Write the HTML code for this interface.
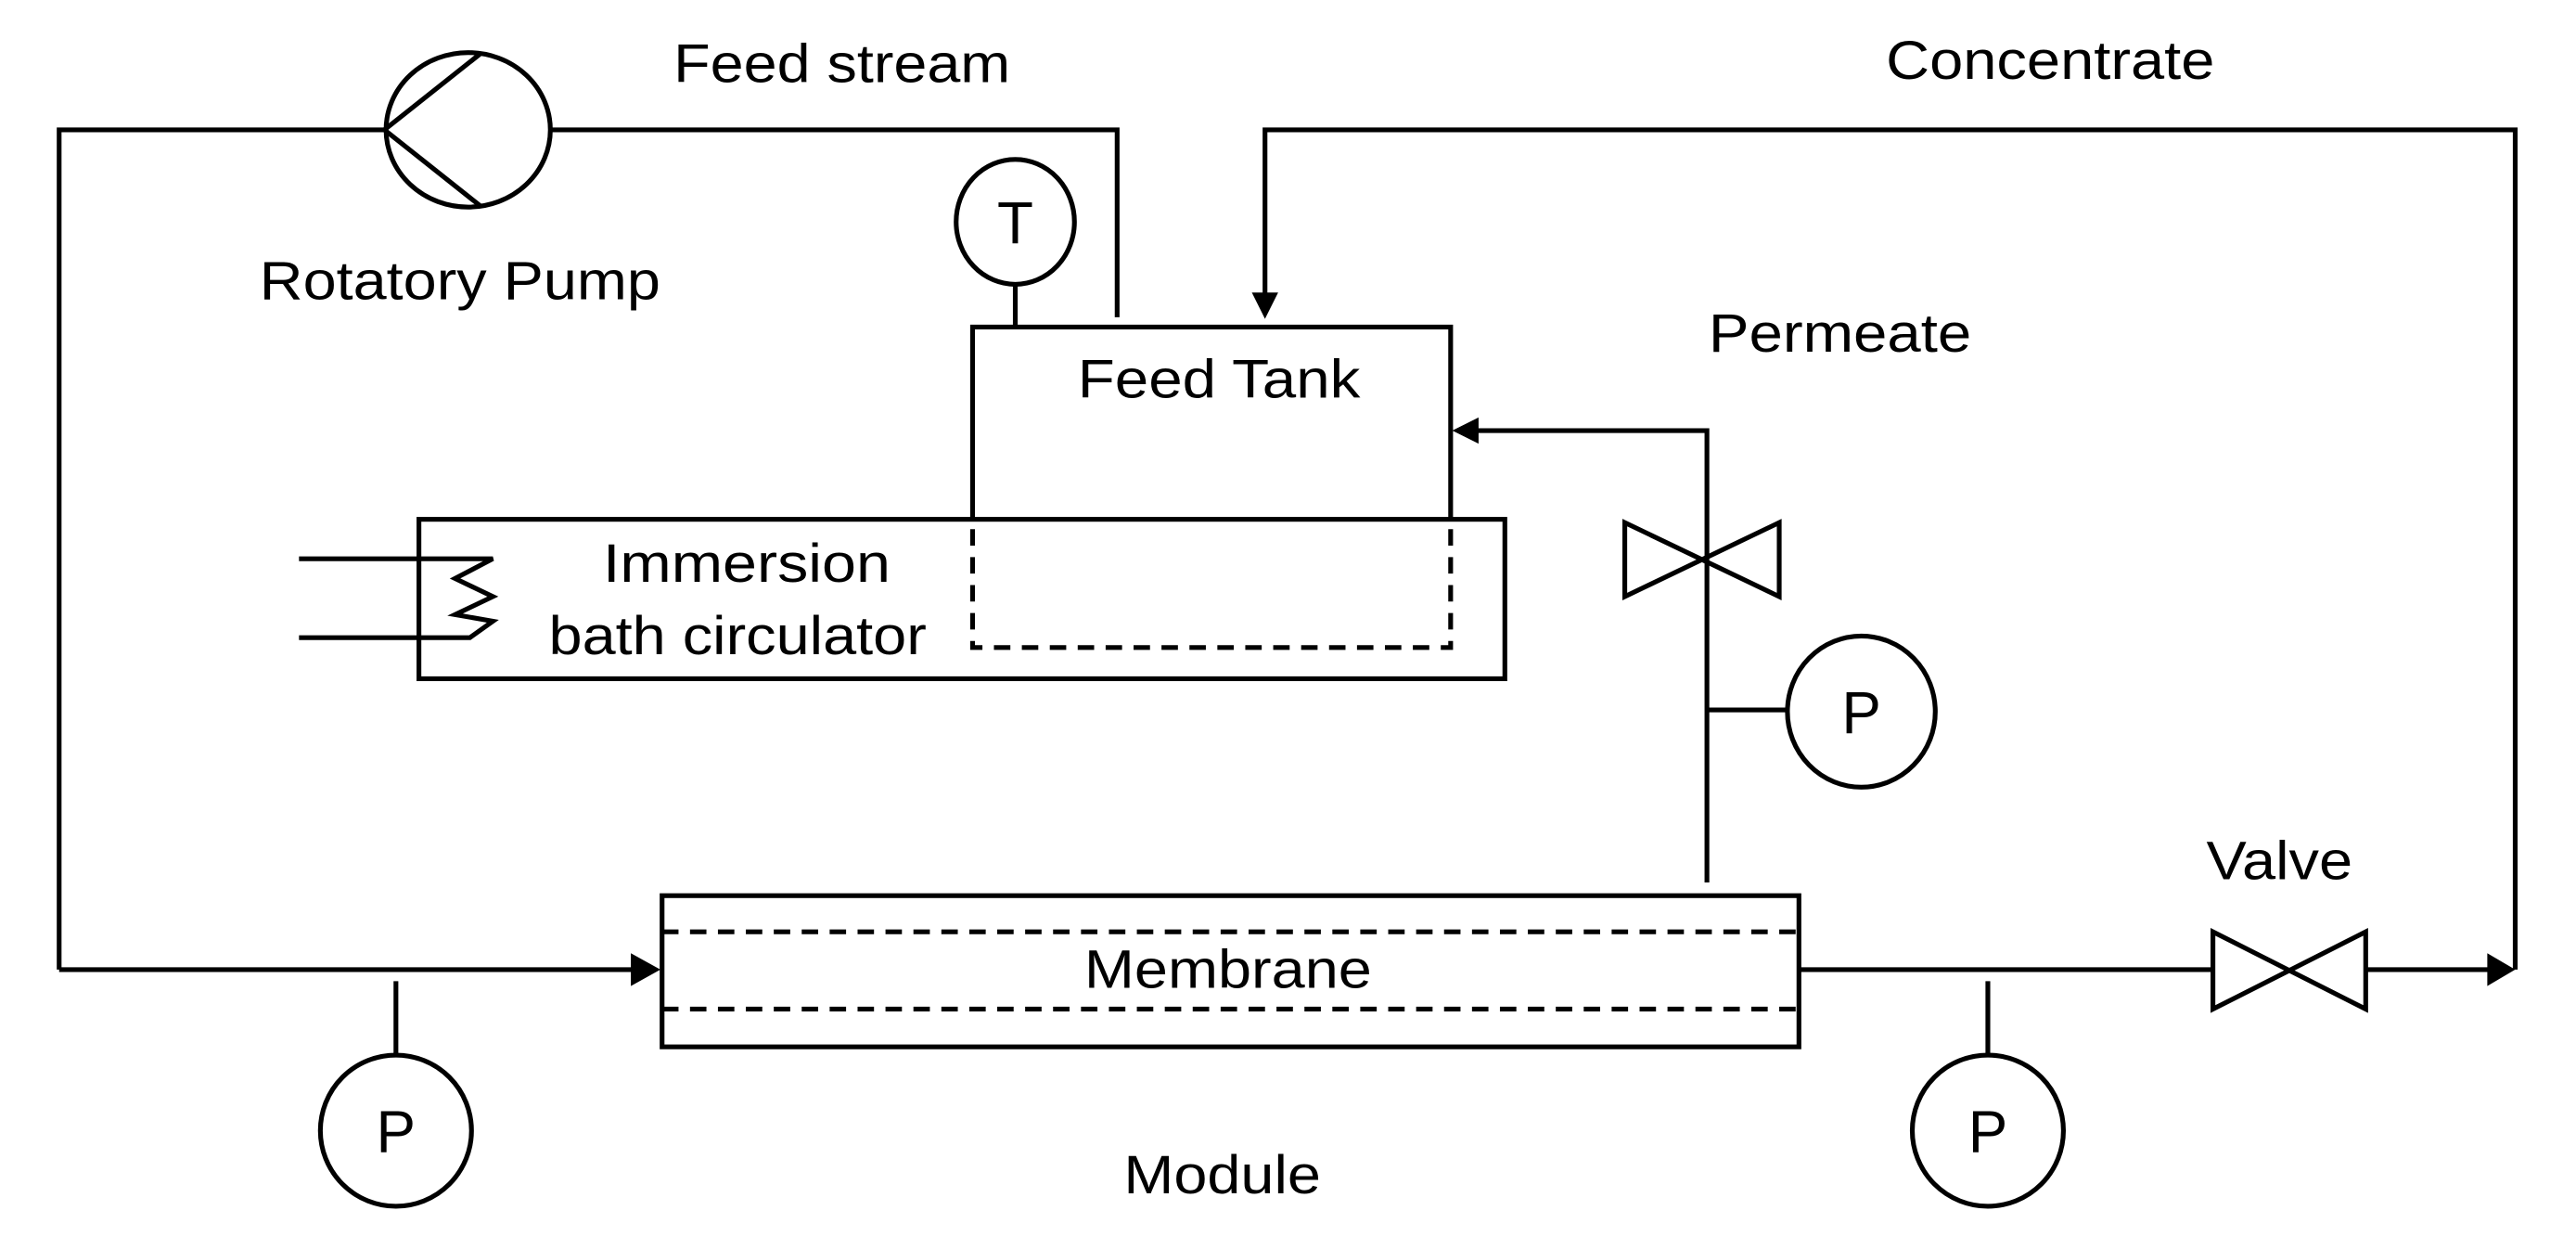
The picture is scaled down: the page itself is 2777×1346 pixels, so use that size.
<!DOCTYPE html>
<html><head><meta charset="utf-8"><style>html,body{margin:0;padding:0;background:#fff}svg{display:block}</style></head>
<body>
<svg width="2777" height="1346" viewBox="0 0 1568 760" preserveAspectRatio="none" xmlns="http://www.w3.org/2000/svg">
<g stroke="#000" stroke-width="2.9" fill="none">
<polyline points="36,590 36,79 234,79"/>
<ellipse cx="285" cy="79" rx="50" ry="47"/>
<polyline points="292,33 234,79 292,125"/>
<polyline points="335,79 680,79 680,193"/>
<ellipse cx="618" cy="135" rx="36" ry="38"/>
<line x1="618" y1="173" x2="618" y2="198"/>
<polyline points="592,316 592,199 883,199 883,316"/>
<rect x="255" y="316" width="661" height="97"/>
<polyline points="592,322 592,394 883,394 883,322" stroke-dasharray="10,7"/>
<polyline points="182,340 300,340 277,352 300,363 277,374 300,378 286,388 182,388"/>
<polyline points="1531,590 1531,79 770,79 770,182"/>
<path d="M762,178 L778,178 L770,194 z" fill="#000" stroke="none"/>
<polyline points="1039,537 1039,262 896,262"/>
<path d="M884,262 L900,254 L900,270 z" fill="#000" stroke="none"/>
<path d="M989,318 L1083,363 L1083,318 L989,363 z"/>
<ellipse cx="1133" cy="433" rx="45" ry="46"/>
<line x1="1039" y1="432" x2="1088" y2="432"/>
<line x1="36" y1="590" x2="388" y2="590"/>
<path d="M402,590 L384,580 L384,600 z" fill="#000" stroke="none"/>
<rect x="403" y="545" width="692" height="92"/>
<line x1="403" y1="567" x2="1095" y2="567" stroke-dasharray="10,7"/>
<line x1="403" y1="614" x2="1095" y2="614" stroke-dasharray="10,7"/>
<line x1="1095" y1="590" x2="1347" y2="590"/>
<path d="M1347,567 L1440,614 L1440,567 L1347,614 z"/>
<line x1="1440" y1="590" x2="1518" y2="590"/>
<path d="M1531,590 L1514,580 L1514,600 z" fill="#000" stroke="none"/>
<line x1="241" y1="597" x2="241" y2="642"/>
<ellipse cx="241" cy="688" rx="46" ry="46"/>
<line x1="1210" y1="597" x2="1210" y2="642"/>
<ellipse cx="1210" cy="688" rx="46" ry="46"/>
</g>
<g font-family="Liberation Sans, Arial, sans-serif" font-size="33" fill="#000">
<text x="410" y="50" textLength="205" lengthAdjust="spacingAndGlyphs">Feed stream</text>
<text x="1148" y="48" textLength="200" lengthAdjust="spacingAndGlyphs">Concentrate</text>
<text x="158" y="182" textLength="244" lengthAdjust="spacingAndGlyphs">Rotatory Pump</text>
<text x="656" y="242" textLength="172" lengthAdjust="spacingAndGlyphs">Feed Tank</text>
<text x="1040" y="214" textLength="160" lengthAdjust="spacingAndGlyphs">Permeate</text>
<text x="367" y="354" textLength="175" lengthAdjust="spacingAndGlyphs">Immersion</text>
<text x="334" y="398" textLength="230" lengthAdjust="spacingAndGlyphs">bath circulator</text>
<text x="1343" y="535" textLength="89" lengthAdjust="spacingAndGlyphs">Valve</text>
<text x="660" y="601" textLength="175" lengthAdjust="spacingAndGlyphs">Membrane</text>
<text x="684" y="726" textLength="120" lengthAdjust="spacingAndGlyphs">Module</text>
</g>
<g font-family="Liberation Sans, Arial, sans-serif" font-size="36" fill="#000" text-anchor="middle">
<text x="618" y="148">T</text>
<text x="1133" y="446">P</text>
<text x="241" y="701">P</text>
<text x="1210" y="701">P</text>
</g>
</svg>
</body></html>
